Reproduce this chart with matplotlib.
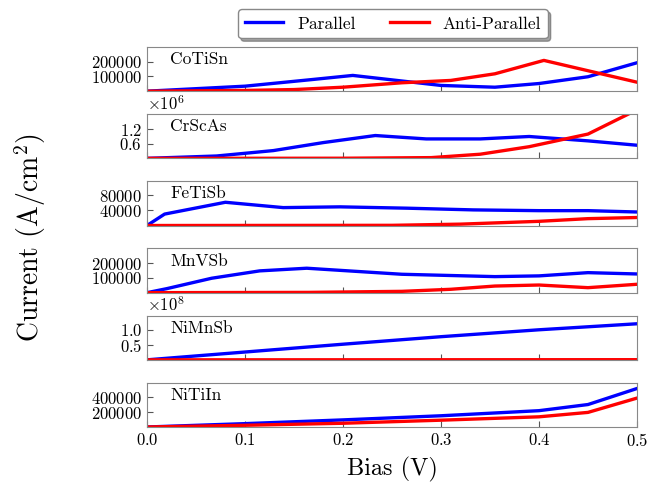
import matplotlib
matplotlib.use('Agg')
import matplotlib.pyplot as plt
import numpy as np

plt.rcParams['font.family'] = 'serif'
plt.rcParams['font.serif'] = ['cmr10', 'DejaVu Serif']
plt.rcParams['mathtext.fontset'] = 'cm'
plt.rcParams['axes.formatter.use_mathtext'] = True

materials = ['CoTiSn', 'CrScAs', 'FeTiSb', 'MnVSb', 'NiMnSb', 'NiTiIn']

# bias points (V) and currents (A/cm^2)
bias_p = {
    'CoTiSn': [0.0, 0.1, 0.17, 0.21, 0.30, 0.355, 0.40, 0.45, 0.5],
    'CrScAs': [0.0, 0.071, 0.129, 0.18, 0.233, 0.285, 0.34, 0.39, 0.45, 0.5],
    'FeTiSb': [0.0, 0.018, 0.08, 0.139, 0.197, 0.265, 0.333, 0.40, 0.45, 0.5],
    'MnVSb': [0.0, 0.02, 0.066, 0.115, 0.163, 0.26, 0.355, 0.40, 0.45, 0.5],
    'NiMnSb': [0.0, 0.1, 0.2, 0.3, 0.4, 0.5],
    'NiTiIn': [0.0, 0.1, 0.2, 0.3, 0.4, 0.45, 0.5],
}
par = {
    'CoTiSn': [0, 34000, 80000, 107000, 39000, 27000, 52000, 98000, 193000],
    'CrScAs': [0, 0.097e6, 0.32e6, 0.65e6, 0.94e6, 0.80e6, 0.80e6, 0.90e6, 0.72e6, 0.54e6],
    'FeTiSb': [0, 30000, 61000, 47000, 49000, 45500, 41000, 39000, 39000, 35500],
    'MnVSb': [0, 27000, 98000, 148000, 166000, 125000, 109000, 114000, 136000, 127000],
    'NiMnSb': [0, 0.26e8, 0.52e8, 0.77e8, 1.0e8, 1.2e8],
    'NiTiIn': [0, 45000, 95000, 150000, 218000, 300000, 514000],
}
bias_a = {
    'CoTiSn': [0.0, 0.1, 0.15, 0.2, 0.26, 0.31, 0.355, 0.405, 0.5],
    'CrScAs': [0.0, 0.2, 0.29, 0.34, 0.39, 0.45, 0.5],
    'FeTiSb': [0.0, 0.25, 0.32, 0.40, 0.45, 0.5],
    'MnVSb': [0.0, 0.165, 0.26, 0.31, 0.355, 0.40, 0.45, 0.5],
    'NiMnSb': [0.0, 0.1, 0.2, 0.3, 0.4, 0.5],
    'NiTiIn': [0.0, 0.1, 0.2, 0.3, 0.4, 0.45, 0.5],
}
anti = {
    'CoTiSn': [0, 5000, 11000, 27000, 57000, 73000, 118000, 209000, 61000],
    'CrScAs': [0, 0.005e6, 0.03e6, 0.17e6, 0.48e6, 1.0e6, 2.0e6],
    'FeTiSb': [0, 500, 3600, 11000, 18000, 21000],
    'MnVSb': [0, 2000, 9000, 23000, 45000, 52000, 34000, 57000],
    'NiMnSb': [0, 1e5, 2e5, 3e5, 4e5, 5e5],
    'NiTiIn': [0, 23000, 50000, 91000, 136000, 195000, 386000],
}
ytop = {'CoTiSn': 300000, 'CrScAs': 1.82e6, 'FeTiSb': 116000,
        'MnVSb': 300000, 'NiMnSb': 1.47e8, 'NiTiIn': 590000}
yticks = {'CoTiSn': [100000, 200000], 'CrScAs': [0.6e6, 1.2e6],
          'FeTiSb': [40000, 80000], 'MnVSb': [100000, 200000],
          'NiMnSb': [0.5e8, 1.0e8], 'NiTiIn': [200000, 400000]}
xticks = [0.0, 0.1, 0.2, 0.3, 0.4, 0.5]

fig, axes = plt.subplots(6, 1, figsize=(6.55, 4.87), dpi=100, sharex=True)
fig.subplots_adjust(left=0.2244, right=0.9725, bottom=0.1232, top=0.9035, hspace=0.52)

for ax, m in zip(axes, materials):
    ax.plot(bias_p[m], par[m], color='blue', lw=2.4, label='Parallel')
    ax.plot(bias_a[m], anti[m], color='red', lw=2.4, label='Anti-Parallel')
    ax.set_xlim(0, 0.5)
    ax.set_ylim(0, ytop[m])
    ax.set_yticks(yticks[m])
    ax.set_xticks(xticks)
    ax.tick_params(direction='in', labelsize=12, color='#555555', length=4)
    for s in ax.spines.values():
        s.set_color('#888888')
    ax.yaxis.get_offset_text().set_fontsize(12)
    ax.text(0.047, 0.72, m, transform=ax.transAxes, fontsize=12.5, va='center')

axes[-1].set_xlabel('Bias (V)', fontsize=17.5, labelpad=6)
fig.text(0.046, 0.513, 'Current (A/cm$^2$)', rotation=90, fontsize=20,
         ha='center', va='center')

h, l = axes[0].get_legend_handles_labels()
fig.legend(h, l, loc='center', bbox_to_anchor=(0.6, 0.951), ncol=2,
           shadow=True, fancybox=True, fontsize=12.5, edgecolor='#888888',
           handlelength=2.2, columnspacing=2.0)

plt.savefig('out.png', dpi=100)
